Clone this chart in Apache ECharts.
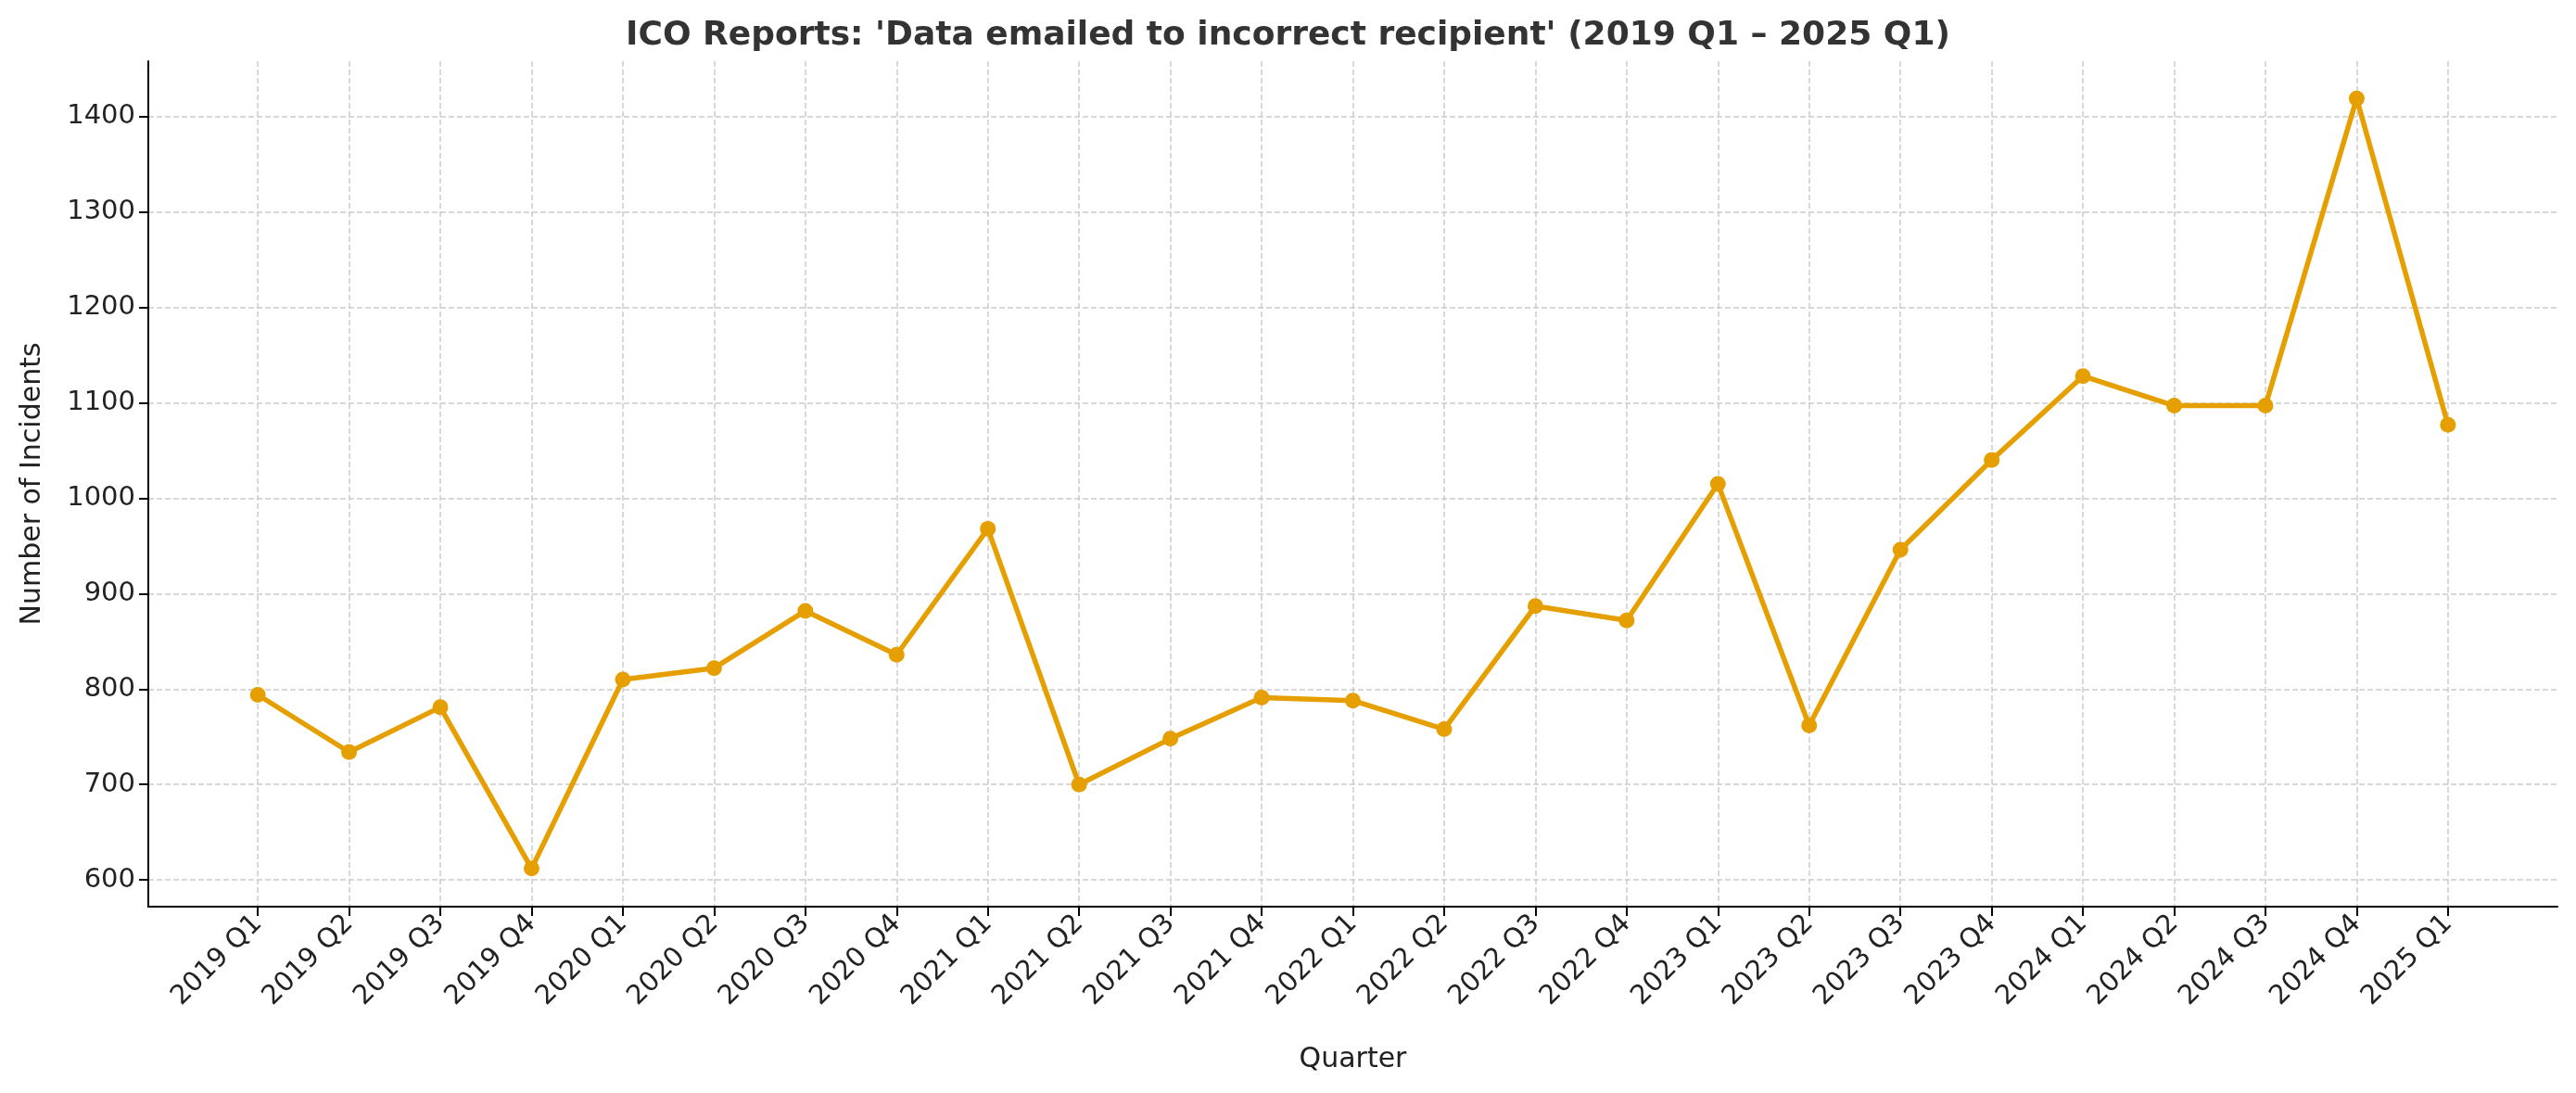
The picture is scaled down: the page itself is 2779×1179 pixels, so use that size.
<!DOCTYPE html>
<html><head><meta charset="utf-8">
<script src="https://cdn.jsdelivr.net/npm/echarts@6/dist/echarts.min.js"></script>
<style>html,body{margin:0;padding:0;background:#fff}#c{width:2779px;height:1179px}</style>
</head><body><div id="c"></div>
<script>
const categories = ['2019 Q1','2019 Q2','2019 Q3','2019 Q4','2020 Q1','2020 Q2','2020 Q3','2020 Q4','2021 Q1','2021 Q2','2021 Q3','2021 Q4','2022 Q1','2022 Q2','2022 Q3','2022 Q4','2023 Q1','2023 Q2','2023 Q3','2023 Q4','2024 Q1','2024 Q2','2024 Q3','2024 Q4','2025 Q1'];
const incidents = [794,734,781,612,810,822,882,836,968,700,748,791,788,758,887,872,1015,762,946,1040,1128,1097,1097,1419,1077];
const yTicks = [600,700,800,900,1000,1100,1200,1300,1400];
const xIdx = categories.map((_, i) => i);
const F = 'DejaVu Sans';
const chart = echarts.init(document.getElementById('c'));
chart.setOption({
  animation: false,
  title: { text: "ICO Reports: 'Data emailed to incorrect recipient' (2019 Q1 \u2013 2025 Q1)", left: 'center', top: 16,
    textStyle: { fontFamily: F, fontSize: 36, fontWeight: 'bold', color: '#333' } },
  grid: { left: 160, right: 20, top: 66, bottom: 201 },
  xAxis: {
    type: 'value', min: -1.2, max: 25.2,
    name: 'Quarter', nameLocation: 'middle', nameGap: 150,
    nameTextStyle: { fontFamily: F, fontSize: 30, color: '#222' },
    axisLine: { onZero: false, lineStyle: { color: '#000', width: 2 } },
    axisTick: { customValues: xIdx, length: 10, lineStyle: { color: '#000', width: 2 } },
    axisLabel: { customValues: xIdx, rotate: 45, fontFamily: F, fontSize: 29, color: '#222', margin: 14,
      formatter: v => categories[Math.round(v)] },
    splitLine: { show: true, lineStyle: { color: '#ccc', type: 'dashed', width: 1.5 } }
  },
  yAxis: {
    type: 'value', min: 572, max: 1458,
    name: 'Number of Incidents', nameLocation: 'middle', nameGap: 110,
    nameTextStyle: { fontFamily: F, fontSize: 30, color: '#222' },
    axisLine: { show: true, onZero: false, lineStyle: { color: '#000', width: 2 } },
    axisTick: { show: true, customValues: yTicks, length: 10, lineStyle: { color: '#000', width: 2 } },
    axisLabel: { customValues: yTicks, fontFamily: F, fontSize: 29, color: '#222', margin: 14, formatter: v => String(v) },
    splitLine: { show: true, lineStyle: { color: '#ccc', type: 'dashed', width: 1.5 } }
  },
  series: [{
    type: 'line', data: incidents.map((v, i) => [i, v]),
    lineStyle: { color: '#E69F00', width: 5.5 },
    itemStyle: { color: '#E69F00' },
    symbol: 'circle', symbolSize: 17
  }]
});
</script></body></html>
